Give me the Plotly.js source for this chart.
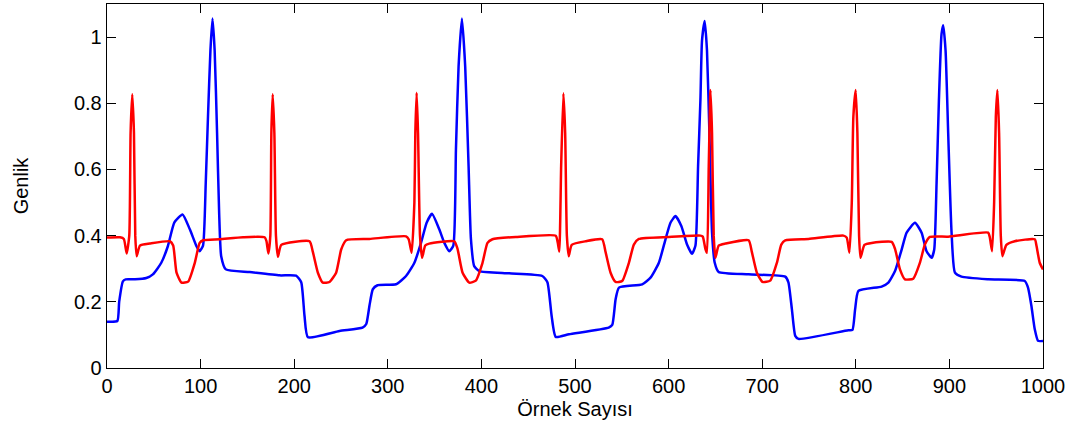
<!DOCTYPE html>
<html>
<head>
<meta charset="utf-8">
<script src="https://cdn.plot.ly/plotly-3.0.1.min.js"></script>
<style>html,body{margin:0;padding:0;background:#fff;}#chart{width:1073px;height:430px;}</style>
</head>
<body>
<div id="chart"></div>
<script>
// Blue series (sample index, amplitude)
const blueX = [0, 11, 13, 17, 20, 30, 42, 49, 58, 65,
  72, 80.7, 88.5, 95.6, 99, 102.6, 105.5, 107.9, 110.5, 112.7,
  115, 117.6, 119.8, 122, 127, 152.5, 184.4, 202, 207.5, 211,
  214.7, 248.4, 273, 277, 280.4, 284, 289, 308.8, 319.5, 328.4,
  335.5, 341.5, 347.2, 355, 360.3, 365.7, 370, 372.8, 375.6, 379.2,
  382.7, 386.3, 388.8, 392.3, 397.7, 429.6, 465, 470.5, 475, 479.4,
  493.6, 536, 539.8, 543.4, 547, 571.8, 580.7, 589.6, 596.7, 602,
  607.4, 613.7, 619.7, 625, 628.7, 631.5, 634, 635.7, 638.6, 641,
  643.6, 646.4, 649.3, 653.5, 685.5, 724.6, 728, 731.7, 735.3, 738.8,
  792, 796.4, 799.3, 802.8, 827.6, 834.8, 841.9, 849, 854.3, 863.2,
  870.3, 875.6, 881, 883.8, 886.3, 888.8, 891.6, 893.4, 895.9, 898.7,
  902.3, 905.9, 912.9, 941.4, 980.5, 984, 987.6, 991.2, 994.7, 1000];
const blueY = [0.14, 0.142, 0.2, 0.262, 0.268, 0.268, 0.272, 0.283, 0.318, 0.368,
  0.44, 0.464, 0.419, 0.368, 0.353, 0.37, 0.56, 0.76, 0.96, 1.056,
  0.96, 0.71, 0.47, 0.338, 0.298, 0.29, 0.28, 0.279, 0.259, 0.158,
  0.093, 0.112, 0.122, 0.133, 0.188, 0.238, 0.25, 0.253, 0.278, 0.318,
  0.378, 0.439, 0.466, 0.419, 0.379, 0.353, 0.37, 0.66, 0.91, 1.056,
  0.91, 0.61, 0.39, 0.308, 0.293, 0.286, 0.278, 0.259, 0.158, 0.094,
  0.102, 0.122, 0.13, 0.208, 0.243, 0.253, 0.273, 0.318, 0.389, 0.439,
  0.459, 0.428, 0.373, 0.345, 0.37, 0.61, 0.81, 0.99, 1.049, 0.96,
  0.71, 0.41, 0.318, 0.29, 0.283, 0.276, 0.259, 0.178, 0.097, 0.088,
  0.114, 0.115, 0.178, 0.233, 0.246, 0.258, 0.293, 0.358, 0.409, 0.439,
  0.409, 0.353, 0.333, 0.358, 0.559, 0.81, 1.01, 1.036, 0.96, 0.71,
  0.41, 0.288, 0.276, 0.268, 0.263, 0.243, 0.188, 0.117, 0.082, 0.082];

// Red series (sample index, amplitude)
const redX = [0, 13.9, 18, 21, 23.8, 25.2, 27, 28.8, 30.2, 31.7,
  35.2, 45.8, 67.2, 70.7, 74.3, 79.6, 86.7, 93.8, 99, 102.7,
  120.5, 145.3, 168.4, 170.3, 172.4, 174.5, 175.6, 177, 178.8, 180.5,
  182.6, 186.2, 216.4, 220, 225.3, 230.6, 237.7, 244.8, 250.2, 255.5,
  280.4, 319.5, 322.3, 325.5, 328.4, 329.4, 330.8, 332.3, 334.4, 336.6,
  340, 344.3, 371, 374.5, 379.9, 387, 394, 401.2, 406.5, 411.8,
  436.8, 479.4, 481.5, 483.2, 485.2, 487.6, 489.5, 491.3, 493.3, 496.5,
  511.4, 529, 532.7, 538, 543.4, 550.4, 557.6, 562.9, 568.2, 600.2,
  634, 636.5, 639.3, 641, 642.9, 644.7, 646.4, 648.2, 650, 653.5,
  660.7, 685.5, 689, 694.3, 700.4, 708.6, 715.7, 720.4, 724.6, 749.5,
  786.8, 790.3, 793.2, 795.7, 797.4, 799.9, 801.7, 803.5, 805, 809.2,
  817, 838.3, 841.9, 847.2, 852.5, 861.4, 868.5, 873.8, 879.2, 898.7,
  941.4, 943.1, 945.6, 947.8, 949.6, 951.3, 953.1, 954.9, 956.6, 960.9,
  969.8, 991.2, 993, 996.5, 1000];
const redY = [0.394, 0.395, 0.39, 0.346, 0.40, 0.71, 0.827, 0.71, 0.40, 0.338,
  0.37, 0.376, 0.383, 0.37, 0.288, 0.258, 0.261, 0.318, 0.378, 0.386,
  0.389, 0.395, 0.395, 0.384, 0.346, 0.40, 0.71, 0.827, 0.71, 0.40,
  0.336, 0.372, 0.383, 0.35, 0.288, 0.258, 0.26, 0.288, 0.358, 0.386,
  0.39, 0.398, 0.389, 0.348, 0.5, 0.71, 0.832, 0.71, 0.40, 0.333,
  0.37, 0.376, 0.383, 0.36, 0.288, 0.258, 0.264, 0.318, 0.378, 0.389,
  0.396, 0.40, 0.38, 0.352, 0.61, 0.83, 0.71, 0.40, 0.338, 0.372,
  0.383, 0.389, 0.35, 0.288, 0.26, 0.263, 0.318, 0.373, 0.39, 0.396,
  0.40, 0.397, 0.36, 0.348, 0.61, 0.84, 0.71, 0.40, 0.333, 0.37,
  0.376, 0.386, 0.35, 0.288, 0.26, 0.264, 0.318, 0.373, 0.386, 0.39,
  0.40, 0.394, 0.348, 0.5, 0.76, 0.84, 0.71, 0.40, 0.333, 0.372,
  0.378, 0.381, 0.36, 0.298, 0.268, 0.27, 0.318, 0.373, 0.396, 0.397,
  0.409, 0.396, 0.353, 0.5, 0.76, 0.84, 0.71, 0.40, 0.338, 0.372,
  0.383, 0.389, 0.37, 0.318, 0.298];

const xTicks = [0, 100, 200, 300, 400, 500, 600, 700, 800, 900, 1000];
const yTicks = [0, 0.2, 0.4, 0.6, 0.8, 1];
const yTickText = ['0', '0.2', '0.4', '0.6', '0.8', '1'];

const fontFam = 'Liberation Sans, Arial, Helvetica, sans-serif';

const traces = [
  {x: blueX, y: blueY, type: 'scatter', mode: 'lines', line: {color: '#0000ff', width: 2.5, shape: 'spline', smoothing: 0.5}, hoverinfo: 'skip'},
  {x: redX, y: redY, type: 'scatter', mode: 'lines', line: {color: '#ff0000', width: 2.5, shape: 'spline', smoothing: 0.5}, hoverinfo: 'skip'}
];

const axisCommon = {
  showgrid: false, zeroline: false, showline: true, linecolor: '#000', linewidth: 1.3,
  mirror: 'ticks', ticks: 'inside', ticklen: 9, tickwidth: 1, tickcolor: '#000',
  tickfont: {family: fontFam, size: 20, color: '#000'}
};

const layout = {
  width: 1073, height: 430,
  margin: {l: 107, r: 30, t: 4, b: 62},
  paper_bgcolor: '#fff', plot_bgcolor: '#fff',
  showlegend: false,
  font: {family: fontFam, size: 20, color: '#000'},
  xaxis: Object.assign({}, axisCommon, {
    range: [0, 1000], tickvals: xTicks,
    title: {text: 'Örnek Sayısı', font: {family: fontFam, size: 20, color: '#000'}, standoff: 5}
  }),
  yaxis: Object.assign({}, axisCommon, {
    range: [0, 1.1], tickvals: yTicks, ticktext: yTickText,
    title: {text: 'Genlik', font: {family: fontFam, size: 20, color: '#000'}, standoff: 40}
  })
};

Plotly.newPlot('chart', traces, layout, {displayModeBar: false, staticPlot: true});
</script>
</body>
</html>
